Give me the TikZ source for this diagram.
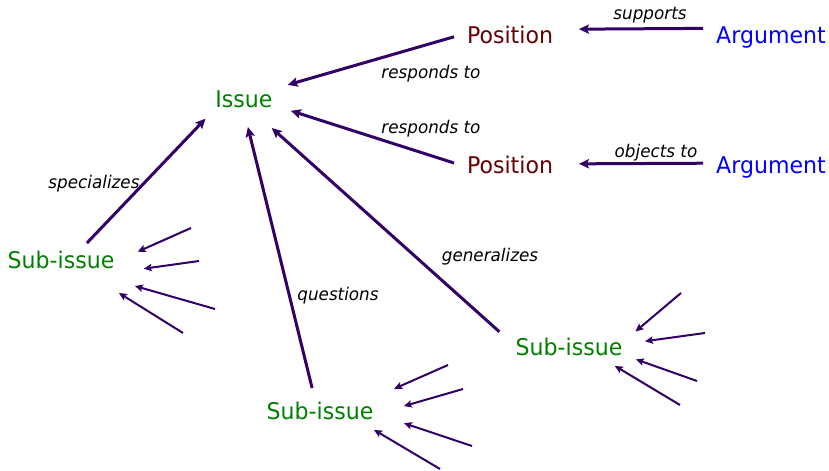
\documentclass[tikz,border=0pt]{standalone}
\usepackage{fontspec}
\setmainfont{DejaVu Sans}[FakeStretch=0.96]
\usetikzlibrary{arrows.meta}
\definecolor{ibisline}{HTML}{330066}
\definecolor{issuegreen}{HTML}{008000}
\definecolor{posred}{HTML}{660000}
\definecolor{argblue}{HTML}{0000FF}
\begin{document}
\begin{tikzpicture}[x=0.75pt,y=-0.75pt,
  box/.style={inner sep=0pt,outer sep=0pt,minimum height=16.5pt,
    text height=12.75pt,text depth=3.75pt,
    font=\fontsize{17.25pt}{20pt}\selectfont},
  issue/.style={box,text=issuegreen,minimum width=43.5pt},
  subissue/.style={box,text=issuegreen,minimum width=80.25pt},
  position/.style={box,text=posred,minimum width=65.25pt},
  argument/.style={box,text=argblue,minimum width=82.5pt},
  rel/.style={font=\fontsize{13.1pt}{15pt}\selectfont\itshape,anchor=base,inner sep=0pt},
  link/.style={draw=ibisline,line width=2.25pt,
    -{Stealth[length=7.5pt,width=7pt,inset=1.5pt]}},
  feed/.style={draw=ibisline,line width=1.5pt,
    -{Stealth[length=6pt,width=5.5pt,inset=1.2pt]}},
]
\useasboundingbox (0,0) rectangle (829,471);

% nodes
\node[issue]    (issue) at (244,101) {Issue};
\node[position] (pos1)  at (510,37)  {Position};
\node[position] (pos2)  at (510,167) {Position};
\node[argument] (arg1)  at (771,37)  {Argument};
\node[argument] (arg2)  at (771,167) {Argument};
\node[subissue] (subl)  at (61,262)  {Sub-issue};
\node[subissue] (subb)  at (320,413) {Sub-issue};
\node[subissue] (subr)  at (569,349) {Sub-issue};

% relation labels
\node[rel] (lsup)   at (650,20)  {supports};
\node[rel] (lobj)   at (656,157) {objects to};
\node[rel] (lresp1) at (431,78)  {responds to};
\node[rel] (lresp2) at (431,133) {responds to};
\node[rel] (lspec)  at (94,188)  {specializes};
\node[rel] (lques)  at (338,300) {questions};
\node[rel] (lgen)   at (490,261) {generalizes};

% main relations
\draw[link,shorten <=9.75pt,shorten >=19.1pt] (arg1.171.57) -- (pos1.10.66);
\draw[link,shorten <=9.75pt,shorten >=19.1pt] (arg2.176.82) -- (pos2.4.04);
\draw[link,shorten <=9.75pt,shorten >=13.9pt] (pos1.175.56) -- (issue.23.41);
\draw[link,shorten <=9.85pt,shorten >=14.1pt] (pos2.180.94) -- (issue.352.87);
\draw[link,shorten <=8.3pt,shorten >=10.3pt] (subl.31.01) -- (issue.195.19);
\draw[link,shorten <=10.8pt,shorten >=11.6pt] (subb.112.7) -- (issue.271.56);
\draw[link,shorten <=16.2pt,shorten >=18pt] (subr.177.14) -- (issue.312.27);

% loose ends of further relations
\coordinate (l1) at (191,228);
\coordinate (l2) at (199,261);
\coordinate (l3) at (215,309);
\coordinate (l4) at (183,333);
\coordinate (b1) at (448,365);
\coordinate (b2) at (463,389);
\coordinate (b3) at (472,446);
\coordinate (b4) at (440,469);
\coordinate (r1) at (681,293);
\coordinate (r2) at (705,333);
\coordinate (r3) at (697,381);
\coordinate (r4) at (680,405);

\draw[feed,shorten >=19pt]   (l1) -- (subl.0.66);
\draw[feed,shorten >=23.5pt] (l2) -- (subl.348.06);
\draw[feed,shorten >=35.3pt] (l3) -- (subl.339.1);
\draw[feed,shorten >=28.3pt] (l4) -- (subl.337.07);

\draw[feed,shorten >=24.6pt] (b1) -- (subb.14.29);
\draw[feed,shorten >=23.7pt] (b2) -- (subb.358.95);
\draw[feed,shorten >=24.1pt] (b3) -- (subb.0.88);
\draw[feed,shorten >=8.6pt]  (b4) -- (subb.346.61);

\draw[feed,shorten >=12.7pt] (r1) -- (subr.7.99);
\draw[feed,shorten >=17pt]   (r2) -- (subr.5.82);
\draw[feed,shorten >=10.7pt] (r3) -- (subr.354.84);
\draw[feed,shorten >=8.6pt]  (r4) -- (subr.343.98);
\end{tikzpicture}
\end{document}
